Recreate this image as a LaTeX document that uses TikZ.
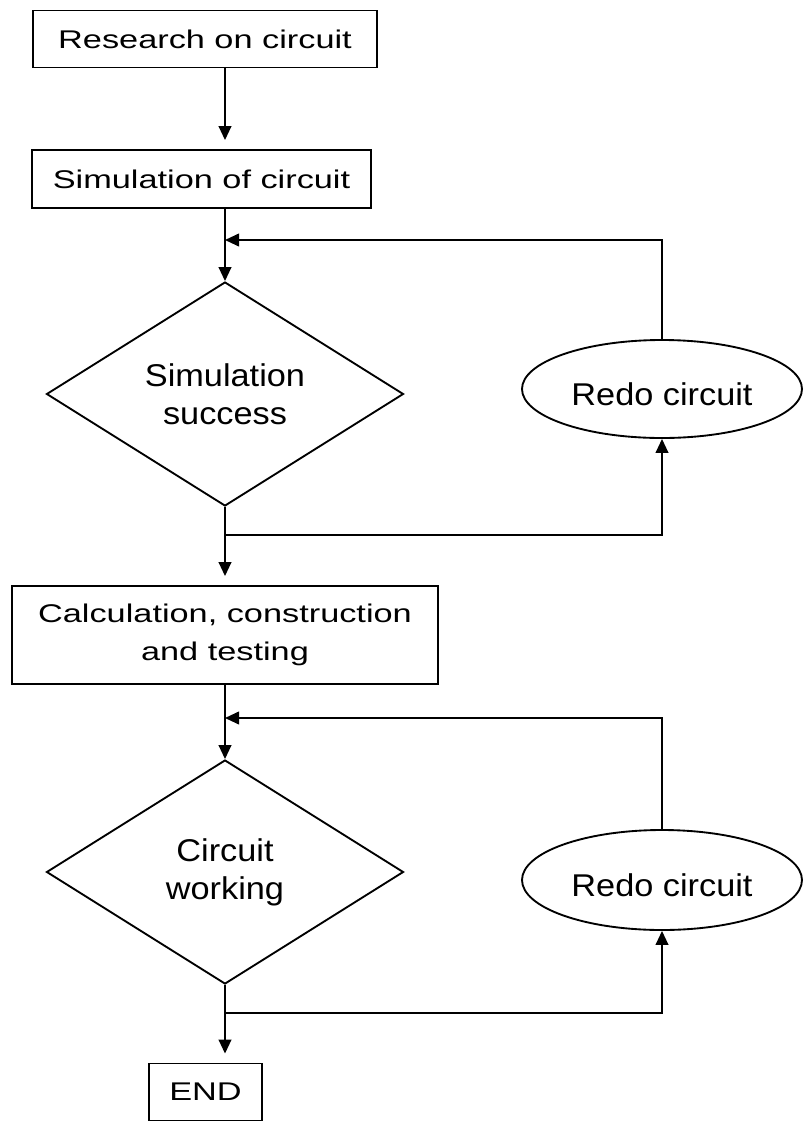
\documentclass[tikz,border=0pt]{standalone}
\usepackage{fontspec}
\usetikzlibrary{shapes.geometric,arrows.meta}
\setmainfont{Liberation Sans}
% wide face for the rectangular steps, slightly wide face for decisions and ovals
\newfontfamily\stepfont{Liberation Sans}[FakeStretch=1.34]
\newfontfamily\ovalfont{Liberation Sans}[FakeStretch=1.09]
\begin{document}
\begin{tikzpicture}[x=0.75pt,y=-0.75pt,
  line width=1.4pt,
  stepbox/.style={draw, rectangle, inner sep=0pt, align=center,
    font=\stepfont\fontsize{19.2pt}{28.5pt}\selectfont},
  decision/.style={draw, diamond, inner sep=0pt, align=center,
    minimum width=267.75pt, minimum height=168pt,
    font=\ovalfont\fontsize{23.6pt}{28.5pt}\selectfont},
  redo/.style={draw, ellipse, inner sep=0pt, align=center,
    minimum width=210pt, text height=24pt, text depth=0pt,
    font=\ovalfont\fontsize{23.6pt}{28.5pt}\selectfont},
  arr/.style={-{Triangle[length=10.5pt,width=9.5pt]}},
  gap/.style={shorten >=6.75pt}]

\useasboundingbox[fill=white] (0,0) rectangle (805,1122);

% process steps
\node[stepbox, minimum width=258pt, minimum height=42.75pt] (b1) at (205,39) {Research on circuit};
\node[stepbox, minimum width=254.25pt, minimum height=43.5pt] (b2) at (201.5,179) {Simulation of circuit};
\node[decision] (d1) at (225,394) {Simulation\\success};
\node[redo, minimum height=73.5pt] (e1) at (662,389) {Redo circuit};
\node[stepbox, minimum width=319.5pt, minimum height=73.5pt] (b3) at (225,635) {Calculation, construction\\and testing};
\node[decision] (d2) at (225,872) {Circuit\\working};
\node[redo, minimum height=75pt] (e2) at (662,880) {Redo circuit};
\node[stepbox, minimum width=84.75pt, minimum height=42.75pt] (end) at (205.5,1092) {END};

% junctions on the main line
\coordinate (j1) at (225,240);
\coordinate (r1) at (225,535);
\coordinate (j2) at (225,718);
\coordinate (r2) at (225,1013);

% main flow
\draw[arr, gap] (b1.south -| d1.north) -- (b2.north -| d1.north);
\draw[arr] (b2.south -| d1.north) -- (d1.north);
\draw[arr, gap] (d1.south) -- (b3.north);
\draw[arr] (b3.south) -- (d2.north);
\draw[arr, gap] (d2.south) -- (end.north -| d2.south);

% first redo loop
\draw[arr] (r1) -| (e1.south);
\draw[arr] (e1.north) |- (j1);

% second redo loop
\draw[arr] (r2) -| (e2.south);
\draw[arr] (e2.north) |- (j2);
\end{tikzpicture}
\end{document}
